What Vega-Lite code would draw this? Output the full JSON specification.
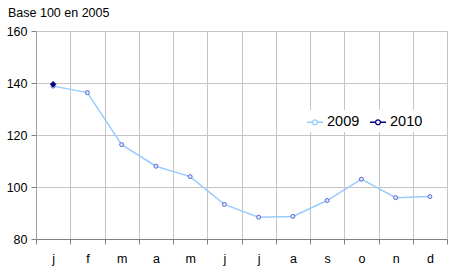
{
  "$schema": "https://vega.github.io/schema/vega-lite/v6.json",
  "width": 411,
  "height": 208,
  "autosize": {"type": "none"},
  "padding": {"left": 36, "top": 31, "right": 3, "bottom": 41},
  "background": "white",
  "title": {
    "text": "Base 100 en 2005",
    "anchor": "start",
    "frame": "group",
    "dx": -28,
    "offset": 6,
    "fontSize": 12.5,
    "fontWeight": "normal",
    "font": "Liberation Sans",
    "color": "#000000"
  },
  "data": {
    "values": [
      {"month": 1, "year": "2009", "value": 138.8},
      {"month": 2, "year": "2009", "value": 136.3},
      {"month": 3, "year": "2009", "value": 116.3},
      {"month": 4, "year": "2009", "value": 108.0},
      {"month": 5, "year": "2009", "value": 104.0},
      {"month": 6, "year": "2009", "value": 93.3},
      {"month": 7, "year": "2009", "value": 88.4},
      {"month": 8, "year": "2009", "value": 88.7},
      {"month": 9, "year": "2009", "value": 94.8},
      {"month": 10, "year": "2009", "value": 103.0},
      {"month": 11, "year": "2009", "value": 95.9},
      {"month": 12, "year": "2009", "value": 96.3},
      {"month": 1, "year": "2010", "value": 139.5}
    ]
  },
  "encoding": {
    "x": {
      "field": "month",
      "type": "ordinal",
      "scale": {"paddingInner": 0, "paddingOuter": 0},
      "axis": {
        "title": null,
        "tickBand": "extent",
        "grid": true,
        "gridColor": "#c4c4c4",
        "labelAngle": 0,
        "labelExpr": "['j','f','m','a','m','j','j','a','s','o','n','d'][datum.value - 1]",
        "labelFont": "Liberation Sans",
        "labelFontSize": 12.5,
        "labelColor": "#000000",
        "labelPadding": 8,
        "tickSize": 5,
        "tickColor": "#808080",
        "domainColor": "#808080"
      }
    },
    "y": {
      "field": "value",
      "type": "quantitative",
      "scale": {"domain": [80, 160], "nice": false, "zero": false},
      "axis": {
        "title": null,
        "values": [80, 100, 120, 140, 160],
        "grid": true,
        "gridColor": "#c4c4c4",
        "labelFont": "Liberation Sans",
        "labelFontSize": 12.5,
        "labelColor": "#000000",
        "labelPadding": 4,
        "tickSize": 5,
        "tickColor": "#808080",
        "domainColor": "#a0a0a0"
      }
    }
  },
  "layer": [
    {
      "mark": {"type": "line", "strokeWidth": 1.5},
      "encoding": {
        "color": {
          "field": "year",
          "type": "nominal",
          "scale": {"domain": ["2009", "2010"], "range": ["#99ccff", "#000080"]},
          "legend": {
            "title": null,
            "orient": "none",
            "legendX": 267,
            "legendY": 79,
            "direction": "horizontal",
            "fillColor": "white",
            "padding": 3,
            "labelFont": "Liberation Sans",
            "labelFontSize": 14.5,
            "labelColor": "#000000",
            "labelOffset": 3,
            "columnPadding": 7,
            "symbolType": "M-1,0H-0.3M0.3,0H1M-0.3,0A0.3,0.3 0 1,1 0.3,0A0.3,0.3 0 1,1 -0.3,0",
            "symbolSize": 256,
            "symbolStrokeWidth": 1.3,
            "symbolFillColor": "white"
          }
        }
      }
    },
    {
      "transform": [{"filter": "datum.year === '2009'"}],
      "mark": {"type": "point", "shape": "circle", "size": 16, "strokeWidth": 1, "stroke": "#5a6ad0", "fill": "#dde4ff", "opacity": 1}
    },
    {
      "transform": [{"filter": "datum.year === '2010'"}],
      "mark": {"type": "point", "shape": "diamond", "size": 30, "strokeWidth": 1, "stroke": "#000080", "fill": "#000080", "opacity": 1}
    }
  ],
  "config": {
    "view": {"stroke": null}
  }
}
